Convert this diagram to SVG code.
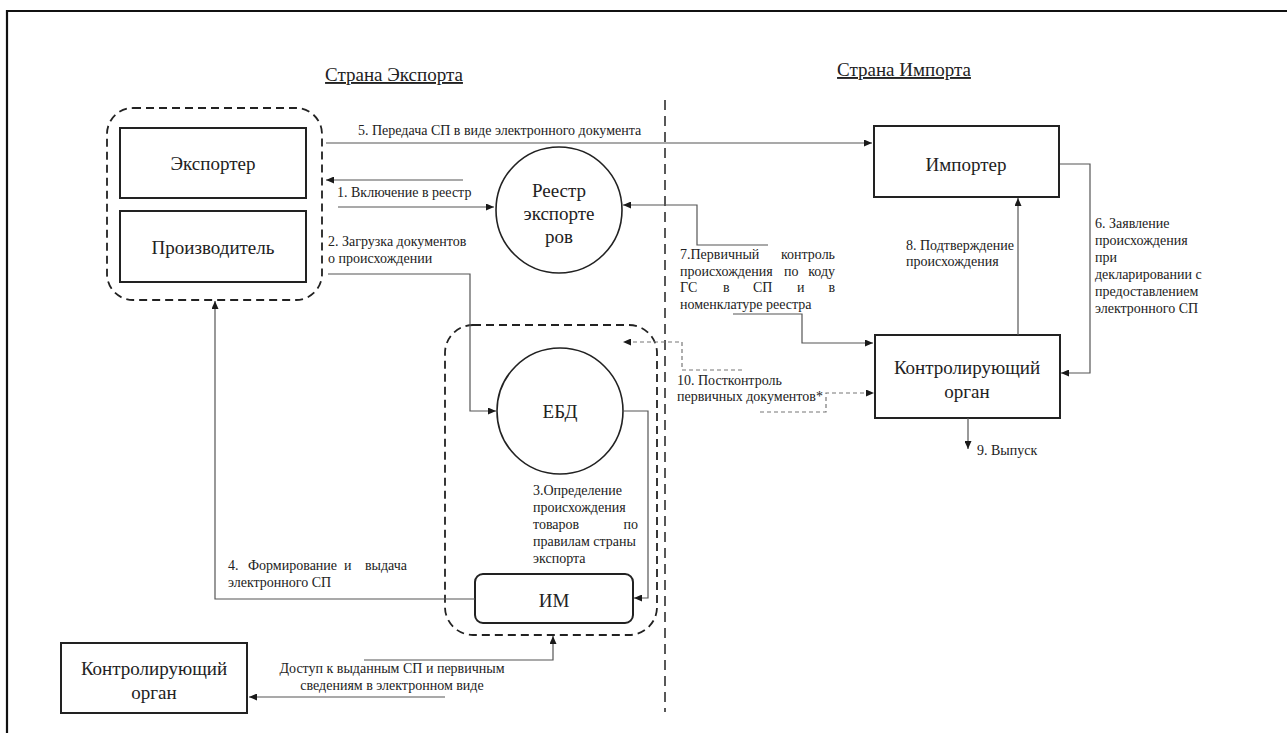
<svg xmlns="http://www.w3.org/2000/svg" width="1287" height="733" viewBox="0 0 1287 733">
<defs>
<marker id="ah" markerWidth="8" markerHeight="7" refX="8" refY="3.5" orient="auto" markerUnits="userSpaceOnUse">
<path d="M0,0 L8,3.5 L0,7 z" fill="#1a1a1a"/>
</marker>
</defs>
<style>
text{font-family:'Liberation Serif','Times New Roman',serif;fill:#222}
.node{font-size:19px}
.lbl{font-size:14px}
.ttl{font-size:19px;text-decoration:underline}
.box{fill:#fff;stroke:#222;stroke-width:2}
.circ{fill:#fff;stroke:#222;stroke-width:1.6}
.grp{fill:none;stroke:#222;stroke-width:1.8;stroke-dasharray:8 5}
.c{fill:none;stroke:#555;stroke-width:1.2}
.d{fill:none;stroke:#777;stroke-width:1.2;stroke-dasharray:4 3}
</style>
<rect x="0" y="0" width="1287" height="733" fill="#fff"/>
<path d="M7,733 V11 H1287" fill="none" stroke="#111" stroke-width="2.2"/>

<text class="ttl" x="394" y="81" text-anchor="middle">Страна Экспорта</text>
<text class="ttl" x="904" y="76" text-anchor="middle">Страна Импорта</text>
<line x1="665" y1="100" x2="665" y2="712" stroke="#222" stroke-width="1.5" stroke-dasharray="10 6"/>

<g id="group-export">
<rect class="grp" x="107" y="108" width="215" height="192" rx="26"/>
</g>
<g id="group-ebd">
<rect class="grp" x="445" y="325" width="212" height="310" rx="28"/>
</g>

<g id="exporter">
<rect class="box" x="120" y="128" width="186" height="70"/>
<text class="node" x="213" y="170" text-anchor="middle">Экспортер</text>
</g>
<g id="producer">
<rect class="box" x="120" y="211" width="186" height="71"/>
<text class="node" x="213" y="254" text-anchor="middle">Производитель</text>
</g>
<g id="registry">
<circle class="circ" cx="559" cy="210" r="63"/>
<text class="node" x="559" y="197" text-anchor="middle">Реестр</text>
<text class="node" x="559" y="220" text-anchor="middle">экспорте</text>
<text class="node" x="559" y="243" text-anchor="middle">ров</text>
</g>
<g id="ebd">
<circle class="circ" cx="560" cy="411" r="63"/>
<text class="node" x="560" y="418" text-anchor="middle">ЕБД</text>
</g>
<g id="im">
<rect class="box" x="475" y="574" width="158" height="49" rx="8"/>
<text class="node" x="554" y="607" text-anchor="middle">ИМ</text>
</g>
<g id="control-export">
<rect class="box" x="61" y="643" width="186" height="70"/>
<text class="node" x="154" y="675" text-anchor="middle">Контролирующий</text>
<text class="node" x="154" y="699" text-anchor="middle">орган</text>
</g>
<g id="importer">
<rect class="box" x="874" y="126" width="185" height="71"/>
<text class="node" x="966" y="171" text-anchor="middle">Импортер</text>
</g>
<g id="control-import">
<rect class="box" x="875" y="335" width="185" height="83"/>
<text class="node" x="967" y="374" text-anchor="middle">Контролирующий</text>
<text class="node" x="967" y="398" text-anchor="middle">орган</text>
</g>

<g id="connectors">
<path class="c" d="M326,143 H872" marker-end="url(#ah)"/>
<path class="c" d="M463,180 H326" marker-end="url(#ah)"/>
<path class="c" d="M338,207 H494" marker-end="url(#ah)"/>
<path class="c" d="M328,274 H470 V411 H496" marker-end="url(#ah)"/>
<path class="c" d="M623,411 H648 V598 H634" marker-end="url(#ah)"/>
<path class="c" d="M475,599 H215 V301" marker-end="url(#ah)"/>
<path class="c" d="M364,660 H553 V636" marker-end="url(#ah)"/>
<path class="c" d="M445,697 H249" marker-end="url(#ah)"/>
<path class="c" d="M768,245 H697 V205 H623" marker-end="url(#ah)"/>
<path class="c" d="M733,314 H802 V343 H873" marker-end="url(#ah)"/>
<path class="d" d="M742,370 H682 V342 H623" marker-end="url(#ah)"/>
<path class="d" d="M760,412 H826 V393 H874" marker-end="url(#ah)"/>
<path class="c" d="M1018,335 V198" marker-end="url(#ah)"/>
<path class="c" d="M1060,164 H1090 V373 H1061" marker-end="url(#ah)"/>
<path class="c" d="M968,418 V449" marker-end="url(#ah)"/>
</g>

<g id="labels">
<text class="lbl" x="358" y="135">5. Передача СП в виде электронного документа</text>
<text class="lbl" x="337" y="197">1. Включение в реестр</text>
<text class="lbl" x="328" y="246">2. Загрузка документов</text>
<text class="lbl" x="328" y="263">о происхождении</text>
<text class="lbl" x="533" y="495">3.Определение</text>
<text class="lbl" x="533" y="512">происхождения</text>
<text class="lbl" x="533" y="529">товаров</text>
<text class="lbl" x="638" y="529" text-anchor="end">по</text>
<text class="lbl" x="533" y="546">правилам страны</text>
<text class="lbl" x="533" y="563">экспорта</text>
<text class="lbl" x="228" y="570">4.</text>
<text class="lbl" x="248" y="570">Формирование</text>
<text class="lbl" x="344" y="570">и</text>
<text class="lbl" x="407" y="570" text-anchor="end">выдача</text>
<text class="lbl" x="228" y="587">электронного СП</text>
<text class="lbl" x="392" y="673" text-anchor="middle">Доступ к выданным СП и первичным</text>
<text class="lbl" x="392" y="690" text-anchor="middle">сведениям в электронном виде</text>
<text class="lbl" x="680" y="259">7.Первичный</text>
<text class="lbl" x="835" y="259" text-anchor="end">контроль</text>
<text class="lbl" x="680" y="276">происхождения</text>
<text class="lbl" x="784" y="276">по</text>
<text class="lbl" x="835" y="276" text-anchor="end">коду</text>
<text class="lbl" x="680" y="292">ГС</text>
<text class="lbl" x="723" y="292">в</text>
<text class="lbl" x="753" y="292">СП</text>
<text class="lbl" x="797" y="292">и</text>
<text class="lbl" x="835" y="292" text-anchor="end">в</text>
<text class="lbl" x="680" y="309">номенклатуре реестра</text>
<text class="lbl" x="677" y="385">10. Постконтроль</text>
<text class="lbl" x="677" y="401">первичных документов*</text>
<text class="lbl" x="906" y="250">8. Подтверждение</text>
<text class="lbl" x="906" y="266">происхождения</text>
<text class="lbl" x="1095" y="228">6. Заявление</text>
<text class="lbl" x="1095" y="245">происхождения</text>
<text class="lbl" x="1095" y="262">при</text>
<text class="lbl" x="1095" y="279">декларировании с</text>
<text class="lbl" x="1095" y="296">предоставлением</text>
<text class="lbl" x="1095" y="313">электронного СП</text>
<text class="lbl" x="977" y="455">9. Выпуск</text>
</g>
</svg>
